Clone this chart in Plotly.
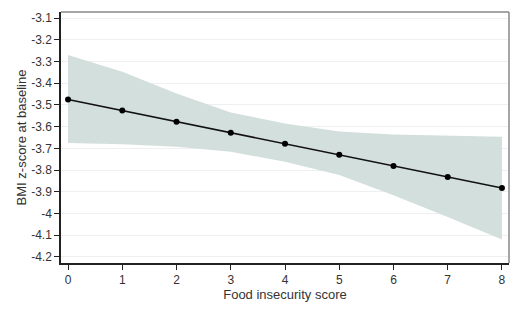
import plotly.graph_objects as go

scores = [0, 1, 2, 3, 4, 5, 6, 7, 8]
bmi_z = [-3.475, -3.526, -3.577, -3.628, -3.679, -3.730, -3.781, -3.832, -3.883]
ci_upper = [-3.27, -3.347, -3.447, -3.535, -3.585, -3.622, -3.636, -3.642, -3.647]
ci_lower = [-3.675, -3.681, -3.693, -3.716, -3.762, -3.823, -3.916, -4.016, -4.12]

y_tickvals = [-3.1, -3.2, -3.3, -3.4, -3.5, -3.6, -3.7, -3.8, -3.9, -4.0, -4.1, -4.2]
y_ticktext = ["-3.1", "-3.2", "-3.3", "-3.4", "-3.5", "-3.6", "-3.7", "-3.8", "-3.9", "-4", "-4.1", "-4.2"]
x_tickvals = scores
x_ticktext = [str(s) for s in scores]

fig = go.Figure()
fig.add_trace(go.Scatter(
    x=scores + scores[::-1],
    y=ci_upper + ci_lower[::-1],
    fill="toself", fillcolor="rgb(211,223,220)",
    line=dict(color="rgba(0,0,0,0)", width=0),
    mode="lines", hoverinfo="skip", showlegend=False,
))
fig.add_trace(go.Scatter(
    x=scores, y=bmi_z, mode="lines+markers",
    line=dict(color="#111111", width=1.5),
    marker=dict(color="#000000", size=6),
    showlegend=False,
))

font = dict(family="Liberation Sans, Arial, sans-serif", color="#333333")
fig.update_layout(
    width=512, height=304,
    margin=dict(l=53, r=11, t=4, b=49, autoexpand=False),
    paper_bgcolor="white", plot_bgcolor="white",
    font=dict(size=12, **font),
    shapes=[
        dict(type="line", xref="paper", yref="paper", x0=0, x1=1, y0=1, y1=1,
             line=dict(color="#888888", width=1.5)),
        dict(type="line", xref="paper", yref="paper", x0=1, x1=1, y0=0, y1=1,
             line=dict(color="#888888", width=1.5)),
    ],
)
fig.update_xaxes(
    range=[-0.13, 8.13], tickvals=x_tickvals, ticktext=x_ticktext,
    showgrid=False, zeroline=False, automargin=False,
    showline=True, linecolor="#222222", linewidth=1.5,
    ticks="outside", ticklen=5, tickcolor="#222222",
    tickfont=dict(size=12, **font),
    title=dict(text="Food insecurity score", font=dict(size=13, **font), standoff=2),
)
fig.update_yaxes(
    range=[-4.228, -3.072], tickvals=y_tickvals, ticktext=y_ticktext,
    showgrid=True, gridcolor="#efefef", gridwidth=1, zeroline=False, automargin=False,
    showline=True, linecolor="#222222", linewidth=1.5,
    ticks="outside", ticklen=5, tickcolor="#222222",
    tickfont=dict(size=12, **font),
    title=dict(text="BMI z-score at baseline", font=dict(size=13, **font), standoff=2),
)

fig.write_html("out.html")
